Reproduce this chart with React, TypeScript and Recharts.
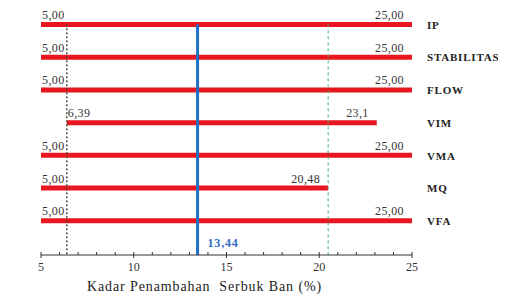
import { Bar, BarChart, LabelList, ReferenceLine, XAxis, YAxis } from "recharts";

const categories = ["IP", "STABILITAS", "FLOW", "VIM", "VMA", "MQ", "VFA"];
const startValues = [5, 5, 5, 6.39, 5, 5, 5];
const endValues = [25, 25, 25, 23.1, 25, 20.48, 25];
const startLabels = ["5,00", "5,00", "5,00", "6,39", "5,00", "5,00", "5,00"];
const endLabels = ["25,00", "25,00", "25,00", "23,1", "25,00", "20,48", "25,00"];
const majorTicks = [5, 10, 15, 20, 25];
const minorTicks = [6, 7, 8, 9, 11, 12, 13, 14, 16, 17, 18, 19, 21, 22, 23, 24];
const optimum = 13.44;
const optimumLabel = "13,44";
const lowerLimit = 6.39;
const upperLimit = 20.48;

const data = categories.map((name, i) => ({
  name,
  range: [startValues[i], endValues[i]],
  startLabel: startLabels[i],
  endLabel: endLabels[i],
}));

const FONT = "'Liberation Serif', 'Times New Roman', serif";
const PAD_BOTTOM = 18;

// vertical guide that starts at the first bar's centre and runs down to the axis
function guide(stroke: string, width: number, dash?: string, label?: string) {
  return (props: any) => {
    const x = props.x1;
    const plotTop = Math.min(props.y1, props.y2);
    const plotBottom = Math.max(props.y1, props.y2);
    const band = (plotBottom - plotTop - PAD_BOTTOM) / categories.length;
    const top = plotTop + band / 2;
    return (
      <g>
        <line x1={x} x2={x} y1={top} y2={plotBottom} stroke={stroke} strokeWidth={width} strokeDasharray={dash} />
        {label && (
          <text
            x={x + 10}
            y={plotBottom - 8}
            fill="#2f6fc2"
            fontFamily={FONT}
            fontSize={12}
            fontWeight="bold"
            letterSpacing={0.8}
          >
            {label}
          </text>
        )}
      </g>
    );
  };
}

function XTick(props: any) {
  const { x, y, payload } = props;
  const major = majorTicks.includes(payload.value);
  return (
    <g>
      {major ? (
        <line x1={x} x2={x} y1={y - 3} y2={y + 3} stroke="#333" />
      ) : (
        <line x1={x} x2={x} y1={y - 3} y2={y} stroke="#333" />
      )}
      {major && (
        <text x={x} y={y + 16} textAnchor="middle" fill="#333" fontFamily={FONT} fontSize={12}>
          {payload.value}
        </text>
      )}
    </g>
  );
}

function YTick(props: any) {
  const { x, y, payload } = props;
  return (
    <text x={x} y={y} dy="0.4em" fill="#222" fontFamily={FONT} fontSize={11} fontWeight="bold" letterSpacing={0.8}>
      {payload.value}
    </text>
  );
}

function StartLabel(props: any) {
  const { x, y, value } = props;
  return (
    <text x={x + 1} y={y - 3} fill="#333" fontFamily={FONT} fontSize={12} letterSpacing={0.4}>
      {value}
    </text>
  );
}

function EndLabel(props: any) {
  const { x, y, width, value } = props;
  return (
    <text x={x + width - 8} y={y - 3} textAnchor="end" fill="#333" fontFamily={FONT} fontSize={12} letterSpacing={0.4}>
      {value}
    </text>
  );
}

function AxisTitle(props: any) {
  const { viewBox } = props;
  return (
    <text
      x={viewBox.x + viewBox.width / 2 - 22}
      y={viewBox.y + 36}
      textAnchor="middle"
      fill="#222"
      fontFamily={FONT}
      fontSize={14}
      letterSpacing={0.9}
      style={{ whiteSpace: "pre" }}
    >
      {"Kadar Penambahan  Serbuk Ban (%)"}
    </text>
  );
}

export default function App() {
  return (
    <BarChart
      width={498}
      height={288}
      data={data}
      layout="vertical"
      margin={{ top: 0, right: 0, left: 33, bottom: 0 }}
    >
      <XAxis
        type="number"
        domain={[5, 25]}
        ticks={[...majorTicks, ...minorTicks].sort((a, b) => a - b)}
        interval={0}
        tickSize={0}
        tickMargin={0}
        tickLine={false}
        tick={<XTick />}
        axisLine={{ stroke: "#333" }}
        height={41}
        label={<AxisTitle />}
        allowDataOverflow
      />
      <YAxis
        type="category"
        dataKey="name"
        orientation="right"
        width={94}
        axisLine={false}
        tickLine={false}
        tickSize={0}
        tickMargin={15}
        tick={<YTick />}
        padding={{ top: 0, bottom: PAD_BOTTOM }}
        interval={0}
      />
      <ReferenceLine x={lowerLimit} shape={guide("#444", 1.4, "2 2")} />
      <ReferenceLine x={upperLimit} shape={guide("#3cb371", 1, "3 3")} />
      <Bar dataKey="range" fill="#e8161e" barSize={5} isAnimationActive={false}>
        <LabelList dataKey="startLabel" content={<StartLabel />} />
        <LabelList dataKey="endLabel" content={<EndLabel />} />
      </Bar>
      <ReferenceLine x={optimum} shape={guide("#1f6fc5", 3, undefined, optimumLabel)} />
    </BarChart>
  );
}
